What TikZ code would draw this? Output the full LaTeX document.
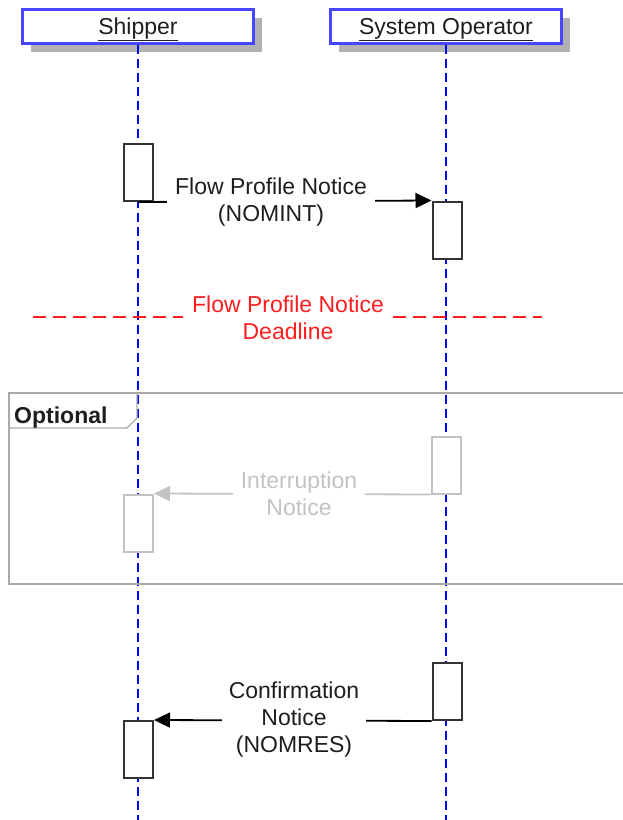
\documentclass[tikz,border=0pt]{standalone}
\usepackage{fontspec}
\setmainfont{Liberation Sans}
\usetikzlibrary{shapes,shadows,arrows.meta,positioning}
\definecolor{lifeblue}{RGB}{0,0,255}
\definecolor{hdrblue}{RGB}{70,70,255}
\definecolor{fadegray}{RGB}{195,195,195}
\definecolor{framegray}{RGB}{170,170,170}
\definecolor{deadred}{RGB}{255,30,30}
\definecolor{txtdark}{RGB}{30,30,30}

\begin{document}
\begin{tikzpicture}[x=1pt,y=-1pt,
  font=\fontsize{23}{27}\selectfont,
  head/.style={draw=hdrblue,line width=2.2pt,fill=white,text=txtdark,
    minimum width=231pt,minimum height=34pt,inner sep=0pt,
    text height=18pt,text depth=2pt,
    drop shadow={shadow xshift=8pt,shadow yshift=-8pt,fill=black!30,opacity=1}},
  life/.style={lifeblue,line width=1.7pt,dash pattern=on 9pt off 5pt},
  act/.style={draw=black!80,line width=2pt,fill=white,
    minimum width=29pt,minimum height=57pt,inner sep=0pt},
  msg/.style={line width=1.8pt,-{Triangle[length=16pt,width=15pt]}},
  lbl/.style={fill=white,align=center,inner xsep=8pt,inner ysep=3pt,text=txtdark}]
  \useasboundingbox (0,0) rectangle (623,820);
  \clip (0,0) rectangle (623,820);

  % headers
  \node[head] (ship) at (138,26.5) {\underline{Shipper}};
  \node[head] (sysop) at (446,26.5) {\underline{System Operator}};

  % lifelines
  \coordinate (shipEnd) at (138,822);
  \coordinate (sysopEnd) at (446,822);
  \draw[life] (ship.south) -- (shipEnd);
  \draw[life] (sysop.south) -- (sysopEnd);

  % optional frame
  \draw[framegray,line width=1.4pt] (9,393) rectangle (640,584);
  \draw[framegray,line width=1.4pt] (9,428) -- (127,428) -- (137,418) -- (137,393);
  \node[anchor=base west,inner sep=0pt,font=\fontsize{23}{27}\selectfont\bfseries,text=txtdark] (opt) at (14,423) {Optional};

  % activations
  \node[act] (sa1) at (138.5,172.5) {};
  \node[act] (oa1) at (447,230) {};
  \node[act,draw=fadegray] (oi) at (446,465) {};
  \node[act,draw=fadegray] (si) at (138.5,523) {};
  \node[act] (oc) at (447,691.5) {};
  \node[act] (sc) at (138.5,749.5) {};

  % messages
  \draw[msg] (sa1.south) -- (oa1.north west);
  \node[lbl] (nomint) at (271,202.5) {Flow Profile Notice\\(NOMINT)};

  \coordinate (dlLeft) at (33,317);
  \coordinate (dlRight) at (542,317);
  \draw[deadred,line width=1.8pt,dash pattern=on 13pt off 7pt] (dlLeft) -- (dlRight);
  \node[lbl,text=deadred,inner xsep=9pt] (deadline) at (288,318) {Flow Profile Notice\\Deadline};

  \draw[msg,fadegray] (oi.south west) -- (si.north east);
  \node[lbl,text=fadegray] (interr) at (299,494) {Interruption\\Notice};

  \draw[msg] (oc.south west) -- (sc.north east);
  \node[lbl,inner xsep=7pt] (nomres) at (294,720) {Confirmation\\Notice\\(NOMRES)};
\end{tikzpicture}
\end{document}
